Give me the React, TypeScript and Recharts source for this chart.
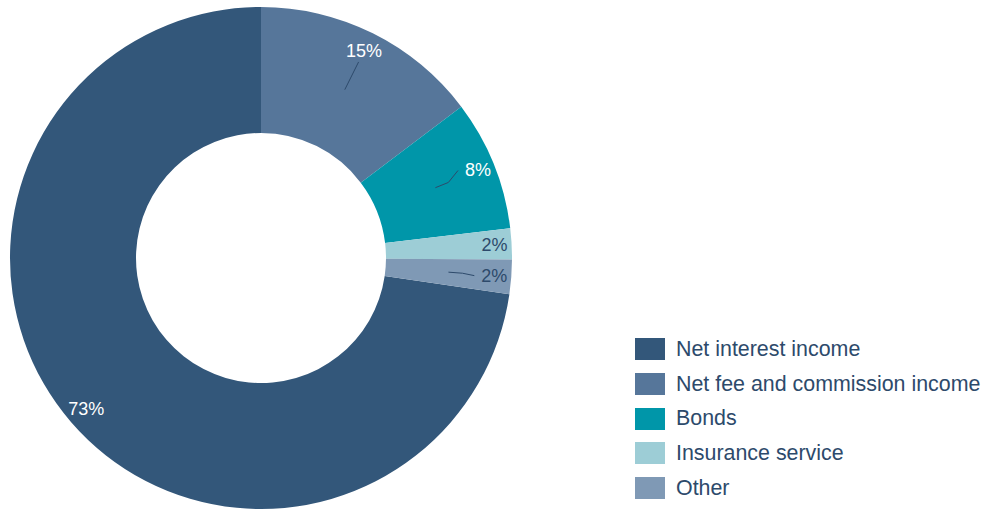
import React from 'react';
import { PieChart, Pie, Cell, Legend } from 'recharts';

const categories = [
  'Net interest income',
  'Net fee and commission income',
  'Bonds',
  'Insurance service',
  'Other',
];
const shares = [72.7, 14.7, 8.4, 2.0, 2.2];
const colors = ['#33577a', '#56769a', '#0096a9', '#9dcdd6', '#7f99b5'];
const labelColors = ['#ffffff', '#ffffff', '#ffffff', '#2d4a6b', '#2d4a6b'];
const showConnector = [false, true, true, false, true];

const data = categories.map((name, i) => ({ name, value: shares[i] }));

const total = shares.reduce((a, b) => a + b, 0);
// first slice ends at 12 o'clock, going clockwise
const startAngle = 90 + (shares[0] / total) * 360;
const endAngle = startAngle - 360;

const RADIAN = Math.PI / 180;
const TEXT = '#2d4a6b';

// eslint-disable-next-line @typescript-eslint/no-explicit-any
const renderLabel = (props: any) => {
  const { cx, cy, midAngle, percent, index } = props;
  const pt = (r: number) => ({
    x: cx + r * Math.cos(-midAngle * RADIAN),
    y: cy + r * Math.sin(-midAngle * RADIAN),
  });
  const text = `${Math.round(percent * 100)}%`;
  const pos = pt(midAngle < 45 && midAngle > -45 ? 234 : 231);
  let line = null;
  if (showConnector[index]) {
    const a = pt(188);
    let pts: { x: number; y: number }[];
    if (midAngle < 45) {
      const b = pt(202);
      const halfW = text.length * 6.5;
      pts = [a, b, { x: pos.x - halfW - 7, y: pos.y }];
    } else {
      pts = [a, pt(219)];
    }
    line = (
      <polyline
        points={pts.map((p) => `${p.x},${p.y}`).join(' ')}
        fill="none"
        stroke={TEXT}
        strokeWidth={1}
      />
    );
  }
  return (
    <g>
      {line}
      <text
        x={pos.x}
        y={pos.y}
        fill={labelColors[index]}
        textAnchor="middle"
        dominantBaseline="central"
        fontSize={18}
        fontFamily="Liberation Sans, Arial, sans-serif"
      >
        {text}
      </text>
    </g>
  );
};

// legend keeps the data order (recharts would sort it by name)
const LegendContent = () => (
  <div style={{ fontFamily: 'Liberation Sans, Arial, sans-serif' }}>
    {categories.map((name, i) => (
      <div key={name} style={{ display: 'flex', alignItems: 'center', height: 34.7 }}>
        <span
          style={{
            display: 'inline-block',
            width: 30,
            height: 22,
            background: colors[i],
            marginRight: 11,
          }}
        />
        <span style={{ fontSize: 21.4, color: TEXT, whiteSpace: 'nowrap' }}>{name}</span>
      </div>
    ))}
  </div>
);

export default function App() {
  return (
    <div style={{ position: 'absolute', left: 0, top: 0 }}>
      <PieChart width={983} height={511} margin={{ top: 0, right: 0, bottom: 0, left: 0 }}>
        <Pie
          data={data}
          dataKey="value"
          nameKey="name"
          cx={261}
          cy={258}
          outerRadius={251}
          innerRadius={125}
          startAngle={startAngle}
          endAngle={endAngle}
          stroke="none"
          label={renderLabel}
          labelLine={false}
          isAnimationActive={false}
        >
          {data.map((d, i) => (
            <Cell key={d.name} fill={colors[i]} />
          ))}
        </Pie>
        <Legend
          layout="vertical"
          content={<LegendContent />}
          wrapperStyle={{ position: 'absolute', left: 635, top: 332, width: 348 }}
        />
      </PieChart>
    </div>
  );
}
